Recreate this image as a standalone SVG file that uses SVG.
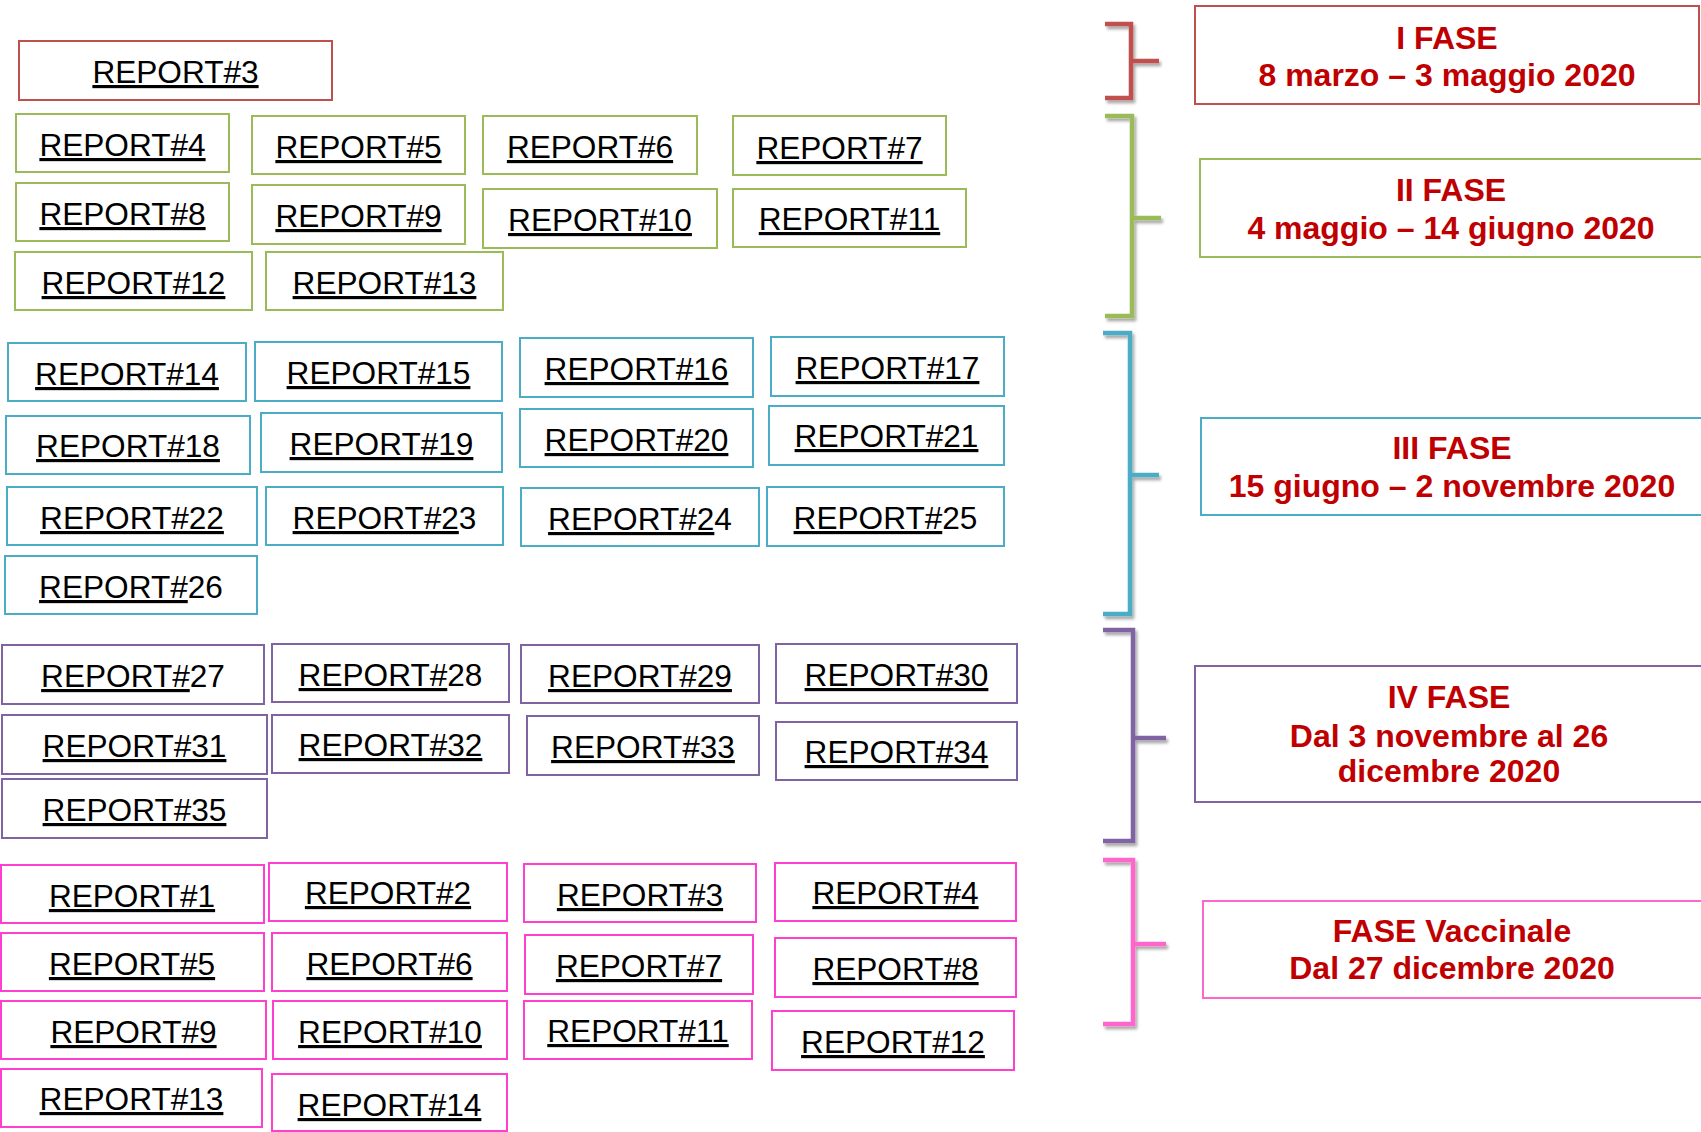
<svg xmlns="http://www.w3.org/2000/svg" width="1701" height="1132" viewBox="0 0 1701 1132">
<defs>
<filter id="shadow" x="-20%" y="-10%" width="160%" height="130%">
<feDropShadow dx="2" dy="3" stdDeviation="1.5" flood-color="#000" flood-opacity="0.35"/>
</filter>
</defs>
<style>
rect{fill:#fff;stroke-width:2}
.r{stroke:#C0504D}.g{stroke:#9BBB59}.b{stroke:#4BACC6}.p{stroke:#8064A2}.v{stroke:#FF3FCF}.vl{stroke:#FF66CC}
.t{font-family:"Liberation Sans",Arial,sans-serif;font-size:31.6px;fill:#000;text-anchor:middle}
.u{text-decoration:underline}
.f{font-family:"Liberation Sans",Arial,sans-serif;font-size:32px;font-weight:bold;fill:#C00000;text-anchor:middle}
.br{fill:none;stroke-width:4.5;stroke-linejoin:miter;stroke-linecap:butt;filter:url(#shadow)}
</style>
<rect width="1701" height="1132" fill="#fff" stroke="none"/>

<g id="connectors">
<path class="br" stroke="#C0504D" d="M1105 24H1131V98H1105M1131 61H1159"/>
<path class="br" stroke="#9BBB59" d="M1105 116H1132V316H1105M1132 218H1161"/>
<path class="br" stroke="#4BACC6" d="M1103 333H1130V614H1103M1130 475H1159"/>
<path class="br" stroke="#8064A2" d="M1103 630H1133V841H1103M1133 738H1166"/>
<path class="br" stroke="#FF66CC" d="M1103 860H1133V1024H1103M1133 944H1166"/>
</g>

<g id="phase1"><rect class="r" x="1195" y="6" width="504" height="98"/><text class="f" x="1447" y="49">I FASE</text><text class="f" x="1447" y="86">8 marzo – 3 maggio 2020</text></g>
<g id="phase2"><rect class="g" x="1200" y="159" width="505" height="98"/><text class="f" x="1451" y="201">II FASE</text><text class="f" x="1451" y="239">4 maggio – 14 giugno 2020</text></g>
<g id="phase3"><rect class="b" x="1201" y="418" width="504" height="97"/><text class="f" x="1452" y="459">III FASE</text><text class="f" x="1452" y="497">15 giugno – 2 novembre 2020</text></g>
<g id="phase4"><rect class="p" x="1195" y="666" width="510" height="136"/><text class="f" x="1449" y="708">IV FASE</text><text class="f" x="1449" y="747">Dal 3 novembre al 26</text><text class="f" x="1449" y="782">dicembre 2020</text></g>
<g id="phase5"><rect class="vl" x="1203" y="901" width="502" height="97"/><text class="f" x="1452" y="942">FASE Vaccinale</text><text class="f" x="1452" y="979">Dal 27 dicembre 2020</text></g>

<g id="r1-3"><rect class="r" x="19" y="41" width="313" height="59"/><text class="t u" x="175.5" y="83">REPORT#3</text></g>

<g id="r1-4"><rect class="g" x="16" y="114" width="213" height="58"/><text class="t u" x="122.5" y="156">REPORT#4</text></g>
<g id="r1-5"><rect class="g" x="252" y="116" width="213" height="58"/><text class="t u" x="358.5" y="158">REPORT#5</text></g>
<g id="r1-6"><rect class="g" x="483" y="116" width="214" height="58"/><text class="t u" x="590" y="158">REPORT#6</text></g>
<g id="r1-7"><rect class="g" x="733" y="116" width="213" height="59"/><text class="t u" x="839.5" y="159">REPORT#7</text></g>
<g id="r1-8"><rect class="g" x="16" y="183" width="213" height="58"/><text class="t u" x="122.5" y="225">REPORT#8</text></g>
<g id="r1-9"><rect class="g" x="252" y="185" width="213" height="59"/><text class="t u" x="358.5" y="227">REPORT#9</text></g>
<g id="r1-10"><rect class="g" x="483" y="189" width="234" height="59"/><text class="t u" x="600" y="231">REPORT#10</text></g>
<g id="r1-11"><rect class="g" x="733" y="189" width="233" height="58"/><text class="t u" x="849.5" y="230">REPORT#11</text></g>
<g id="r1-12"><rect class="g" x="15" y="252" width="237" height="58"/><text class="t u" x="133.5" y="294">REPORT#12</text></g>
<g id="r1-13"><rect class="g" x="266" y="252" width="237" height="58"/><text class="t u" x="384.5" y="294">REPORT#13</text></g>

<g id="r1-14"><rect class="b" x="8" y="343" width="238" height="58"/><text class="t u" x="127" y="385">REPORT#14</text></g>
<g id="r1-15"><rect class="b" x="255" y="342" width="247" height="59"/><text class="t u" x="378.5" y="384">REPORT#15</text></g>
<g id="r1-16"><rect class="b" x="520" y="338" width="233" height="59"/><text class="t u" x="636.5" y="380">REPORT#16</text></g>
<g id="r1-17"><rect class="b" x="771" y="337" width="233" height="59"/><text class="t u" x="887.5" y="379">REPORT#17</text></g>
<g id="r1-18"><rect class="b" x="6" y="416" width="244" height="58"/><text class="t u" x="128" y="457">REPORT#18</text></g>
<g id="r1-19"><rect class="b" x="261" y="413" width="241" height="59"/><text class="t u" x="381.5" y="455">REPORT#19</text></g>
<g id="r1-20"><rect class="b" x="520" y="409" width="233" height="58"/><text class="t u" x="636.5" y="451">REPORT#20</text></g>
<g id="r1-21"><rect class="b" x="769" y="406" width="235" height="59"/><text class="t u" x="886.5" y="447">REPORT#21</text></g>
<g id="r1-22"><rect class="b" x="7" y="487" width="250" height="58"/><text class="t u" x="132" y="529">REPORT#22</text></g>
<g id="r1-23"><rect class="b" x="266" y="487" width="237" height="58"/><text class="t" x="384.5" y="529"><tspan class="u">REPORT#2</tspan>3</text></g>
<g id="r1-24"><rect class="b" x="521" y="488" width="238" height="58"/><text class="t" x="640" y="530"><tspan class="u">REPORT#2</tspan>4</text></g>
<g id="r1-25"><rect class="b" x="767" y="487" width="237" height="59"/><text class="t" x="885.5" y="529"><tspan class="u">REPORT#</tspan>25</text></g>
<g id="r1-26"><rect class="b" x="5" y="556" width="252" height="58"/><text class="t" x="131" y="598"><tspan class="u">REPORT#</tspan>26</text></g>

<g id="r1-27"><rect class="p" x="2" y="645" width="262" height="59"/><text class="t" x="133" y="687"><tspan class="u">REPORT#</tspan>27</text></g>
<g id="r1-28"><rect class="p" x="272" y="644" width="237" height="58"/><text class="t" x="390.5" y="686"><tspan class="u">REPORT#</tspan>28</text></g>
<g id="r1-29"><rect class="p" x="521" y="645" width="238" height="58"/><text class="t u" x="640" y="687">REPORT#29</text></g>
<g id="r1-30"><rect class="p" x="776" y="644" width="241" height="59"/><text class="t u" x="896.5" y="686">REPORT#30</text></g>
<g id="r1-31"><rect class="p" x="2" y="715" width="265" height="59"/><text class="t u" x="134.5" y="757">REPORT#31</text></g>
<g id="r1-32"><rect class="p" x="272" y="715" width="237" height="58"/><text class="t u" x="390.5" y="756">REPORT#32</text></g>
<g id="r1-33"><rect class="p" x="527" y="716" width="232" height="59"/><text class="t u" x="643" y="758">REPORT#33</text></g>
<g id="r1-34"><rect class="p" x="776" y="722" width="241" height="58"/><text class="t u" x="896.5" y="763">REPORT#34</text></g>
<g id="r1-35"><rect class="p" x="2" y="779" width="265" height="59"/><text class="t u" x="134.5" y="821">REPORT#35</text></g>

<g id="v-1"><rect class="v" x="1" y="865" width="263" height="58"/><text class="t u" x="132" y="907">REPORT#1</text></g>
<g id="v-2"><rect class="v" x="269" y="863" width="238" height="58"/><text class="t u" x="388" y="904">REPORT#2</text></g>
<g id="v-3"><rect class="v" x="524" y="864" width="232" height="58"/><text class="t u" x="640" y="906">REPORT#3</text></g>
<g id="v-4"><rect class="v" x="775" y="863" width="241" height="58"/><text class="t u" x="895.5" y="904">REPORT#4</text></g>
<g id="v-5"><rect class="v" x="1" y="933" width="263" height="58"/><text class="t u" x="132" y="975">REPORT#5</text></g>
<g id="v-6"><rect class="v" x="272" y="933" width="235" height="58"/><text class="t u" x="389.5" y="975">REPORT#6</text></g>
<g id="v-7"><rect class="v" x="525" y="935" width="228" height="59"/><text class="t u" x="639" y="977">REPORT#7</text></g>
<g id="v-8"><rect class="v" x="775" y="938" width="241" height="59"/><text class="t u" x="895.5" y="980">REPORT#8</text></g>
<g id="v-9"><rect class="v" x="1" y="1001" width="265" height="58"/><text class="t u" x="133.5" y="1043">REPORT#9</text></g>
<g id="v-10"><rect class="v" x="273" y="1001" width="234" height="58"/><text class="t u" x="390" y="1043">REPORT#10</text></g>
<g id="v-11"><rect class="v" x="524" y="1001" width="228" height="58"/><text class="t u" x="638" y="1042">REPORT#11</text></g>
<g id="v-12"><rect class="v" x="772" y="1011" width="242" height="59"/><text class="t u" x="893" y="1053">REPORT#12</text></g>
<g id="v-13"><rect class="v" x="1" y="1069" width="261" height="58"/><text class="t u" x="131.5" y="1110">REPORT#13</text></g>
<g id="v-14"><rect class="v" x="272" y="1074" width="235" height="57"/><text class="t u" x="389.5" y="1116">REPORT#14</text></g>
</svg>
